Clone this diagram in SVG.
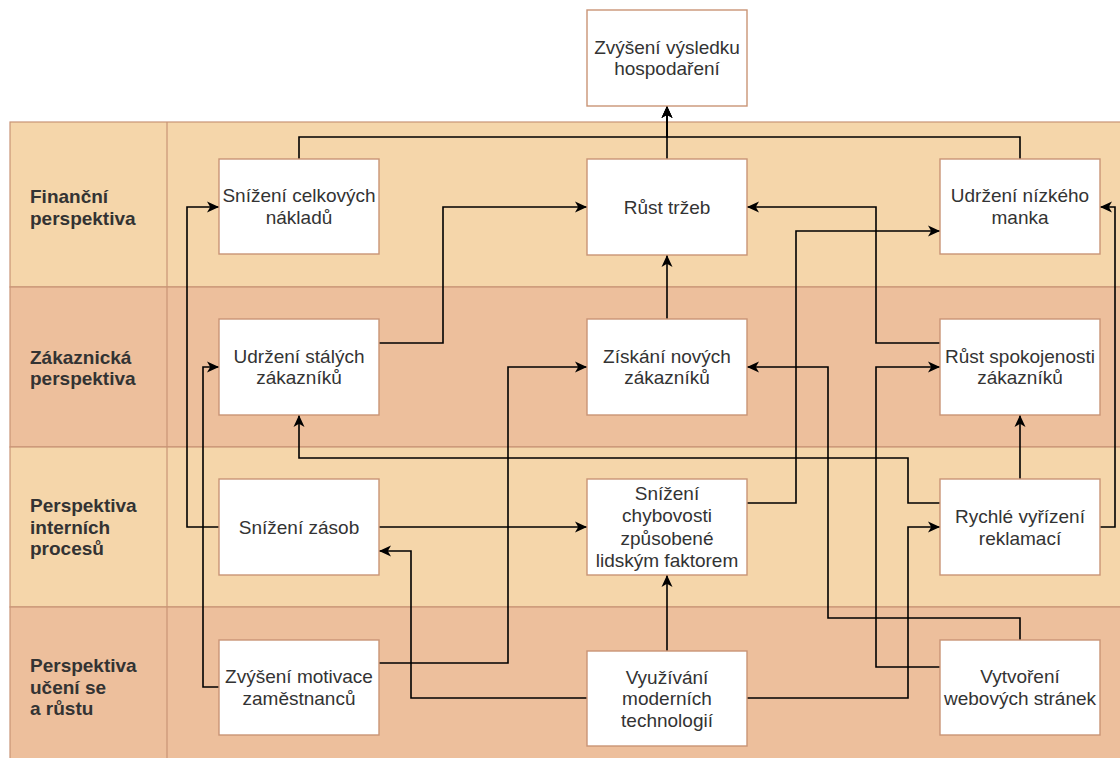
<svg xmlns="http://www.w3.org/2000/svg" width="1120" height="758" viewBox="0 0 1120 758">
<style>
.laneA{fill:#F5D6AA;stroke:#C99476;stroke-width:1.2}
.laneB{fill:#EDBF9C;stroke:#C99476;stroke-width:1.2}
.box{fill:#FFFFFF;stroke:#C99476;stroke-width:1.4}
.t{font-family:"Liberation Sans",Arial,Helvetica,sans-serif;font-size:19px;fill:#333333;text-anchor:middle}
.lbl{font-family:"Liberation Sans",Arial,Helvetica,sans-serif;font-size:19px;font-weight:bold;fill:#333333}
.c{fill:none;stroke:#000000;stroke-width:1.6;marker-end:url(#arr)}
</style>
<defs>
<marker id="arr" markerUnits="userSpaceOnUse" markerWidth="13" markerHeight="12" refX="12" refY="6" orient="auto">
<path d="M0,0.5 L12,6 L0,11.5 L3.2,6 Z" fill="#000000"/>
</marker>
</defs>
<rect width="1120" height="758" fill="#FFFFFF"/>
<g id="lanes">
<rect class="laneA" x="10" y="122" width="1125" height="165"/>
<rect class="laneB" x="10" y="287" width="1125" height="160"/>
<rect class="laneA" x="10" y="447" width="1125" height="160"/>
<rect class="laneB" x="10" y="607" width="1125" height="160"/>
<line x1="167" y1="122" x2="167" y2="767" stroke="#C99476" stroke-width="1.2"/>
<text class="lbl"><tspan x="30" y="203">Finanční</tspan><tspan x="30" y="224.6">perspektiva</tspan></text>
<text class="lbl"><tspan x="30" y="363.6">Zákaznická</tspan><tspan x="30" y="385.2">perspektiva</tspan></text>
<text class="lbl"><tspan x="30" y="512">Perspektiva</tspan><tspan x="30" y="533.6">interních</tspan><tspan x="30" y="555.2">procesů</tspan></text>
<text class="lbl"><tspan x="30" y="672">Perspektiva</tspan><tspan x="30" y="693.6">učení se</tspan><tspan x="30" y="715.2">a růstu</tspan></text>
</g>
<g id="connectors">
<path class="c" d="M667,159 V106"/>
<path class="c" d="M299,159 V137 H667 V106"/>
<path class="c" d="M1020,159 V137 H667 V106"/>
<path class="c" d="M219,527 H187 V207 H219"/>
<path class="c" d="M379,343 H443 V207 H587"/>
<path class="c" d="M940,343 H876 V207 H747"/>
<path class="c" d="M747,503 H796 V231 H940"/>
<path class="c" d="M1100,527 H1115 V207 H1100"/>
<path class="c" d="M667,319 V255"/>
<path class="c" d="M219,687 H203 V367 H219"/>
<path class="c" d="M379,663 H508 V367 H587"/>
<path class="c" d="M1020,640 V618 H828 V367 H747"/>
<path class="c" d="M940,667 H876 V367 H940"/>
<path class="c" d="M1020,479 V415"/>
<path class="c" d="M940,503 H908 V458 H299 V415"/>
<path class="c" d="M379,527 H587"/>
<path class="c" d="M587,698 H411 V551 H379"/>
<path class="c" d="M667,651 V575"/>
<path class="c" d="M747,698 H908 V527 H940"/>
</g>
<g id="n_result"><rect class="box" x="587" y="10" width="160" height="96"/><text class="t"><tspan x="667" y="53.8">Zvýšení výsledku</tspan><tspan x="667" y="75.4">hospodaření</tspan></text></g>
<g id="n_costs"><rect class="box" x="219" y="159" width="160" height="95"/><text class="t"><tspan x="299" y="202.3">Snížení celkových</tspan><tspan x="299" y="223.9">nákladů</tspan></text></g>
<g id="n_sales"><rect class="box" x="587" y="159" width="160" height="96"/><text class="t" x="667" y="213.6">Růst tržeb</text></g>
<g id="n_manko"><rect class="box" x="940" y="159" width="160" height="95"/><text class="t"><tspan x="1020" y="202.3">Udržení nízkého</tspan><tspan x="1020" y="223.9">manka</tspan></text></g>
<g id="n_loyal"><rect class="box" x="219" y="319" width="160" height="96"/><text class="t"><tspan x="299" y="362.8">Udržení stálých</tspan><tspan x="299" y="384.4">zákazníků</tspan></text></g>
<g id="n_new"><rect class="box" x="587" y="319" width="160" height="96"/><text class="t"><tspan x="667" y="362.8">Získání nových</tspan><tspan x="667" y="384.4">zákazníků</tspan></text></g>
<g id="n_satisf"><rect class="box" x="940" y="319" width="160" height="96"/><text class="t"><tspan x="1020" y="362.8">Růst spokojenosti</tspan><tspan x="1020" y="384.4">zákazníků</tspan></text></g>
<g id="n_stock"><rect class="box" x="219" y="479" width="160" height="96"/><text class="t" x="299" y="533.6">Snížení zásob</text></g>
<g id="n_errors"><rect class="box" x="587" y="479" width="160" height="96"/><text class="t"><tspan x="667" y="499.9">Snížení</tspan><tspan x="667" y="522.4">chybovosti</tspan><tspan x="667" y="544.9">způsobené</tspan><tspan x="667" y="567.4">lidským faktorem</tspan></text></g>
<g id="n_claims"><rect class="box" x="940" y="479" width="160" height="96"/><text class="t"><tspan x="1020" y="523.3">Rychlé vyřízení</tspan><tspan x="1020" y="544.9">reklamací</tspan></text></g>
<g id="n_motiv"><rect class="box" x="219" y="640" width="160" height="95"/><text class="t"><tspan x="299" y="683.3">Zvýšení motivace</tspan><tspan x="299" y="704.9">zaměstnanců</tspan></text></g>
<g id="n_tech"><rect class="box" x="587" y="651" width="160" height="95"/><text class="t"><tspan x="667" y="683.5">Využívání</tspan><tspan x="667" y="705.1">moderních</tspan><tspan x="667" y="726.7">technologií</tspan></text></g>
<g id="n_web"><rect class="box" x="940" y="640" width="160" height="95"/><text class="t"><tspan x="1020" y="683.3">Vytvoření</tspan><tspan x="1020" y="704.9">webových stránek</tspan></text></g>
</svg>
